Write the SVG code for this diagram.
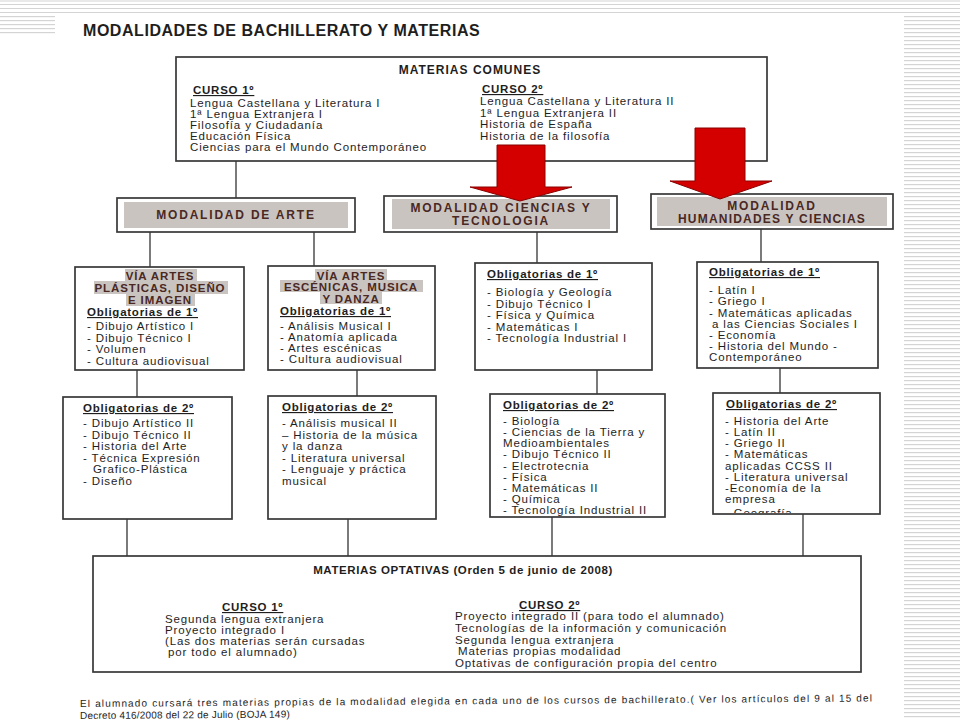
<svg xmlns="http://www.w3.org/2000/svg" width="960" height="720" viewBox="0 0 960 720">
<defs>
<style>
.t{font-family:"Liberation Sans",Arial,sans-serif;font-size:11.5px;letter-spacing:0.85px;fill:#1e1e1e}
.h{font-weight:bold;text-decoration:underline;letter-spacing:0.75px}
.b{font-weight:bold}
.box{fill:#fff;stroke:#383838;stroke-width:1.7}
.band{fill:#c9c4c0}
.mt{font-family:"Liberation Sans",Arial,sans-serif;font-weight:bold;font-size:12px;letter-spacing:1.8px;fill:#4a2823}
.vt{font-family:"Liberation Sans",Arial,sans-serif;font-weight:bold;font-size:11.5px;letter-spacing:0.9px;fill:#4a2823}
.conn line{stroke:#333;stroke-width:1.3}
.arrow{fill:#d40000;stroke:#8a0000;stroke-width:1}
.deco{stroke:#d4d4d4;stroke-width:1.2}
</style>
<pattern id="stripes" x="0" y="0" width="8" height="4" patternUnits="userSpaceOnUse">
<rect x="0" y="0" width="8" height="1.2" fill="#d4d4d4"/>
</pattern>
<clipPath id="clipD"><rect x="713" y="393" width="167" height="120"/></clipPath>
</defs>
<rect width="960" height="720" fill="#fff"/>
<g id="template">
<line class="deco" x1="0" y1="1" x2="960" y2="1"/>
<line class="deco" x1="0" y1="4.5" x2="960" y2="4.5"/>
<line class="deco" x1="0" y1="8.5" x2="960" y2="8.5"/>
<line class="deco" x1="0" y1="12.5" x2="960" y2="12.5"/>
<rect x="0" y="16" width="55" height="20" fill="url(#stripes)"/>
<rect x="904" y="16" width="56" height="704" fill="url(#stripes)"/>
</g>
<text class="t b" x="83" y="36" style="font-size:16px;letter-spacing:0.55px">MODALIDADES DE BACHILLERATO Y MATERIAS</text>

<g class="conn" id="connectors">
<line x1="236" y1="161" x2="236" y2="198"/>
<line x1="150" y1="232" x2="150" y2="267"/>
<line x1="314" y1="232" x2="314" y2="266"/>
<line x1="537" y1="232" x2="537" y2="263"/>
<line x1="761" y1="229" x2="761" y2="262"/>
<line x1="137" y1="370" x2="137" y2="397"/>
<line x1="357" y1="370" x2="357" y2="396"/>
<line x1="597" y1="370" x2="597" y2="394"/>
<line x1="780" y1="368" x2="780" y2="393"/>
<line x1="127" y1="519" x2="127" y2="556"/>
<line x1="348" y1="519" x2="348" y2="556"/>
<line x1="552" y1="517" x2="552" y2="556"/>
<line x1="803" y1="514" x2="803" y2="556"/>
</g>

<g id="comunes">
<rect class="box" x="176" y="57" width="591" height="104"/>
<text class="t b" x="470" y="74" text-anchor="middle" style="font-size:12px;letter-spacing:1px">MATERIAS COMUNES</text>
<text class="t h" x="193" y="94">CURSO 1º</text>
<text class="t" x="190" y="107">Lengua Castellana y Literatura I</text>
<text class="t" x="190" y="118">1ª Lengua Extranjera I</text>
<text class="t" x="190" y="129">Filosofía y Ciudadanía</text>
<text class="t" x="190" y="140">Educación Física</text>
<text class="t" x="190" y="151">Ciencias para el Mundo Contemporáneo</text>
<text class="t h" x="482" y="93">CURSO 2º</text>
<text class="t" x="480" y="105">Lengua Castellana y Literatura II</text>
<text class="t" x="480" y="116.5">1ª Lengua Extranjera II</text>
<text class="t" x="480" y="128">Historia de España</text>
<text class="t" x="480" y="139.5">Historia de la filosofía</text>
</g>

<g id="mod-arte">
<rect class="box" x="117" y="198" width="238" height="34"/>
<rect class="band" x="124" y="202" width="224" height="26"/>
<text class="mt" x="236" y="219" text-anchor="middle">MODALIDAD DE ARTE</text>
</g>
<g id="mod-ciencias">
<rect class="box" x="384" y="196" width="233" height="36"/>
<rect class="band" x="392" y="199" width="218" height="30"/>
<text class="mt" x="501" y="211.5" text-anchor="middle">MODALIDAD CIENCIAS Y</text>
<text class="mt" x="501" y="225" text-anchor="middle">TECNOLOGIA</text>
</g>
<g id="mod-humanidades">
<rect class="box" x="651" y="194" width="242" height="35"/>
<rect class="band" x="657" y="197" width="230" height="29"/>
<text class="mt" x="772" y="209.5" text-anchor="middle">MODALIDAD</text>
<text class="mt" x="772" y="223" text-anchor="middle" style="letter-spacing:1.2px">HUMANIDADES Y CIENCIAS</text>
</g>

<g id="arrows">
<polygon class="arrow" points="497,145 545,145 545,187 572,187 520,201 470,187 497,187"/>
<polygon class="arrow" points="695,128 745,128 745,181 772,181 720,199 670,181 695,181"/>
</g>

<g id="via-plasticas">
<rect class="box" x="75" y="267" width="169" height="103"/>
<rect class="band" x="125" y="269" width="72" height="13"/>
<rect class="band" x="94" y="281" width="134" height="13"/>
<rect class="band" x="126" y="293" width="69" height="13"/>
<text class="vt" x="160" y="280" text-anchor="middle">VÍA ARTES</text>
<text class="vt" x="160" y="292" text-anchor="middle">PLÁSTICAS, DISEÑO</text>
<text class="vt" x="160" y="304" text-anchor="middle">E IMAGEN</text>
<text class="t h" x="87" y="316">Obligatorias de 1º</text>
<text class="t" x="87" y="330">- Dibujo Artístico I</text>
<text class="t" x="87" y="341.5">- Dibujo Técnico I</text>
<text class="t" x="87" y="353">- Volumen</text>
<text class="t" x="87" y="364.5">- Cultura audiovisual</text>
</g>
<g id="via-escenicas">
<rect class="box" x="268" y="266" width="167" height="104"/>
<rect class="band" x="315" y="269" width="72" height="12"/>
<rect class="band" x="280" y="280" width="143" height="12"/>
<rect class="band" x="320" y="291" width="62" height="13"/>
<text class="vt" x="351" y="280" text-anchor="middle">VÍA ARTES</text>
<text class="vt" x="351" y="291" text-anchor="middle">ESCÉNICAS, MUSICA</text>
<text class="vt" x="351" y="303" text-anchor="middle">Y DANZA</text>
<text class="t h" x="280" y="315">Obligatorias de 1º</text>
<text class="t" x="280" y="330">- Análisis Musical I</text>
<text class="t" x="280" y="341">- Anatomía aplicada</text>
<text class="t" x="280" y="352">- Artes escénicas</text>
<text class="t" x="280" y="363">- Cultura audiovisual</text>
</g>
<g id="ciencias-1">
<rect class="box" x="475" y="263" width="177" height="107"/>
<text class="t h" x="487" y="278">Obligatorias de 1º</text>
<text class="t" x="487" y="296">- Biología y Geología</text>
<text class="t" x="487" y="307.5">- Dibujo Técnico I</text>
<text class="t" x="487" y="319">- Física y Química</text>
<text class="t" x="487" y="330.5">- Matemáticas I</text>
<text class="t" x="487" y="342">- Tecnología Industrial I</text>
</g>
<g id="humanidades-1">
<rect class="box" x="697" y="262" width="181" height="106"/>
<text class="t h" x="709" y="276">Obligatorias de 1º</text>
<text class="t" x="709" y="294">- Latín I</text>
<text class="t" x="709" y="305">- Griego I</text>
<text class="t" x="709" y="317">- Matemáticas aplicadas</text>
<text class="t" x="712" y="328">a las Ciencias Sociales I</text>
<text class="t" x="709" y="339">- Economía</text>
<text class="t" x="709" y="350">- Historia del Mundo -</text>
<text class="t" x="709" y="361">Contemporáneo</text>
</g>

<g id="plasticas-2">
<rect class="box" x="63" y="397" width="169" height="122"/>
<text class="t h" x="83" y="412">Obligatorias de 2º</text>
<text class="t" x="83" y="427">- Dibujo Artístico II</text>
<text class="t" x="83" y="438.5">- Dibujo Técnico II</text>
<text class="t" x="83" y="450">- Historia del Arte</text>
<text class="t" x="83" y="461.5">- Técnica Expresión</text>
<text class="t" x="93" y="473">Grafico-Plástica</text>
<text class="t" x="83" y="484.5">- Diseño</text>
</g>
<g id="escenicas-2">
<rect class="box" x="268" y="396" width="168" height="123"/>
<text class="t h" x="282" y="411">Obligatorias de 2º</text>
<text class="t" x="282" y="427">- Análisis musical II</text>
<text class="t" x="282" y="438.5">– Historia de la música</text>
<text class="t" x="282" y="450">y la danza</text>
<text class="t" x="282" y="461.5">- Literatura universal</text>
<text class="t" x="282" y="473">- Lenguaje y práctica</text>
<text class="t" x="282" y="484.5">musical</text>
</g>
<g id="ciencias-2">
<rect class="box" x="490" y="394" width="175" height="123"/>
<text class="t h" x="503" y="409">Obligatorias de 2º</text>
<text class="t" x="503" y="425">- Biología</text>
<text class="t" x="503" y="436">- Ciencias de la Tierra y</text>
<text class="t" x="503" y="447">Medioambientales</text>
<text class="t" x="503" y="458">- Dibujo Técnico II</text>
<text class="t" x="503" y="469.5">- Electrotecnia</text>
<text class="t" x="503" y="480.5">- Física</text>
<text class="t" x="503" y="491.5">- Matemáticas II</text>
<text class="t" x="503" y="502.5">- Química</text>
<text class="t" x="503" y="513.5">- Tecnología Industrial II</text>
</g>
<g id="humanidades-2">
<rect class="box" x="713" y="393" width="167" height="121"/>
<text class="t h" x="726" y="408">Obligatorias de 2º</text>
<g clip-path="url(#clipD)">
<text class="t" x="725" y="425">- Historia del Arte</text>
<text class="t" x="725" y="436">- Latín II</text>
<text class="t" x="725" y="447">- Griego II</text>
<text class="t" x="725" y="458">- Matemáticas</text>
<text class="t" x="725" y="469.5">aplicadas CCSS II</text>
<text class="t" x="725" y="480.5">- Literatura universal</text>
<text class="t" x="725" y="491.5">-Economía de la</text>
<text class="t" x="725" y="502.5">empresa</text>
<text class="t" x="725" y="516.5">- Geografía</text>
</g>
</g>

<g id="optativas">
<rect class="box" x="93" y="556" width="768" height="116"/>
<text class="t b" x="463" y="574" text-anchor="middle" style="font-size:11.5px;letter-spacing:0.6px">MATERIAS OPTATIVAS (Orden 5 de junio de 2008)</text>
<text class="t h" x="222" y="611">CURSO 1º</text>
<text class="t" x="165" y="623">Segunda lengua extranjera</text>
<text class="t" x="165" y="634">Proyecto integrado I</text>
<text class="t" x="165" y="645">(Las dos materias serán cursadas</text>
<text class="t" x="168" y="656">por todo el alumnado)</text>
<text class="t h" x="519" y="609">CURSO 2º</text>
<text class="t" x="455" y="620">Proyecto integrado II (para todo el alumnado)</text>
<text class="t" x="455" y="632">Tecnologías de la información y comunicación</text>
<text class="t" x="455" y="644">Segunda lengua extranjera</text>
<text class="t" x="458" y="655">Materias propias modalidad</text>
<text class="t" x="455" y="667">Optativas de configuración propia del centro</text>
</g>

<g id="nota" transform="rotate(-0.4 80 706)">
<text class="t" x="80" y="707" style="font-size:10px;letter-spacing:0" textLength="792" lengthAdjust="spacing">El alumnado cursará tres materias propias de la modalidad elegida en cada uno de los cursos de bachillerato.( Ver los artículos del 9 al 15 del</text>
<text class="t" x="80" y="719" style="font-size:10px;letter-spacing:0.2px">Decreto 416/2008 del 22 de Julio (BOJA 149)</text>
</g>
</svg>
